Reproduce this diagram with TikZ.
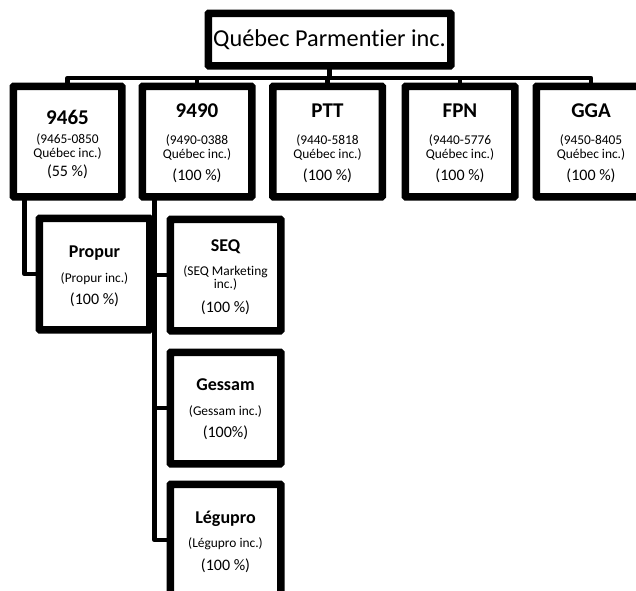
\documentclass[tikz,border=0pt]{standalone}
\usepackage{fontspec}
\setmainfont{Carlito}[Ligatures=NoCommon]
\newcommand\rowt[2]{\rule{0pt}{#1pt}\smash{#2}}
\newcommand\blk[1]{\vtop{\offinterlineskip\halign{\hfil##\hfil\cr#1\crcr}}}
\newcommand\hA{\fontsize{21}{21}\selectfont\bfseries}
\newcommand\hB{\fontsize{18}{18}\selectfont\bfseries}
\newcommand\sB{\fontsize{13.4}{14}\selectfont}
\newcommand\pC{\fontsize{16}{16}\selectfont}
\tikzset{
  box/.style={draw=black, line width=5pt, rounded corners=1.5pt, inner sep=0pt, fill=white},
  conn/.style={draw=black, line width=4.5pt, line join=round},
  txt/.style={anchor=base, inner sep=0pt, text=black}
}
\begin{document}
\begin{tikzpicture}[x=1pt, y=-1pt]
\useasboundingbox (0,0) rectangle (636,590);
\coordinate (bus) at (0,78);
\coordinate (v1) at (24.5,0);
\coordinate (v2) at (154.5,0);
% boxes
\node[box, minimum width=240pt, minimum height=50pt] (top) at (329.5,39.5) {};
\node[box, minimum width=106pt, minimum height=108pt] (b1) at (67.5,141.5) {};
\node[box, minimum width=107pt, minimum height=108pt] (b2) at (197,141.5) {};
\node[box, minimum width=107pt, minimum height=108pt] (b3) at (327.5,141.5) {};
\node[box, minimum width=107pt, minimum height=108pt] (b4) at (460,141.5) {};
\node[box, minimum width=107pt, minimum height=108pt] (b5) at (591,141.5) {};
\node[box, minimum width=108pt, minimum height=109pt] (propur) at (94.5,274) {};
\node[box, minimum width=108pt, minimum height=109pt] (seq) at (225.5,275) {};
\node[box, minimum width=108pt, minimum height=109pt] (gessam) at (225.5,408) {};
\node[box, minimum width=108pt, minimum height=109pt] (legupro) at (225.5,540) {};
% connectors
\draw[conn] (top.south) -- (top.south |- bus);
\draw[conn] (b1.north) -- (b1.north |- bus) -- (b5.north |- bus) -- (b5.north);
\draw[conn] (b2.north) -- (b2.north |- bus);
\draw[conn] (b3.north) -- (b3.north |- bus);
\draw[conn] (b4.north) -- (b4.north |- bus);
\draw[conn] (b1.south -| v1) |- (propur.west);
\draw[conn] (b2.south -| v2) |- (legupro.west);
\draw[conn] (seq.west -| v2) -- (seq.west);
\draw[conn] (gessam.west -| v2) -- (gessam.west);
% box borders over connector ends
\foreach \n in {top,b1,b2,b3,b4,b5,propur,seq,gessam,legupro}{
  \draw[line width=5pt, rounded corners=1.5pt] (\n.north west) rectangle (\n.south east);
}
% texts
\node[txt] (ttop) at (329.5,46) {\fontsize{24.3}{24}\selectfont Québec Parmentier inc.};
\node[txt] (t1) at (67.5,124) {\blk{\rowt{0}{\hA 9465}\cr\rowt{19}{\sB (9465-0850}\cr\rowt{14}{\sB Québec inc.)}\cr\rowt{19}{\pC (55 \%)}}};
\node[txt] (t2) at (197,117) {\blk{\rowt{0}{\hA 9490}\cr\rowt{27}{\sB (9490-0388}\cr\rowt{14}{\sB Québec inc.)}\cr\rowt{22}{\pC (100 \%)}}};
\node[txt] (t3) at (327.5,117) {\blk{\rowt{0}{\hA PTT}\cr\rowt{27}{\sB (9440-5818}\cr\rowt{14}{\sB Québec inc.)}\cr\rowt{22}{\pC (100 \%)}}};
\node[txt] (t4) at (460,117) {\blk{\rowt{0}{\hA FPN}\cr\rowt{27}{\sB (9440-5776}\cr\rowt{14}{\sB Québec inc.)}\cr\rowt{22}{\pC (100 \%)}}};
\node[txt] (t5) at (591,117) {\blk{\rowt{0}{\hA GGA}\cr\rowt{27}{\sB (9450-8405}\cr\rowt{14}{\sB Québec inc.)}\cr\rowt{22}{\pC (100 \%)}}};
\node[txt] (tp) at (94.5,257) {\blk{\rowt{0}{\hB Propur}\cr\rowt{25}{\sB (Propur inc.)}\cr\rowt{22}{\pC (100 \%)}}};
\node[txt] (ts) at (225.5,251) {\blk{\rowt{0}{\hB SEQ}\cr\rowt{24}{\sB (SEQ Marketing}\cr\rowt{13.5}{\sB inc.)}\cr\rowt{24}{\pC (100 \%)}}};
\node[txt] (tg) at (225.5,390) {\blk{\rowt{0}{\hB Gessam}\cr\rowt{25}{\sB (Gessam inc.)}\cr\rowt{22}{\pC (100\%)}}};
\node[txt] (tl) at (225.5,523) {\blk{\rowt{0}{\hB Légupro}\cr\rowt{24}{\sB (Légupro inc.)}\cr\rowt{23}{\pC (100 \%)}}};
\end{tikzpicture}
\end{document}
